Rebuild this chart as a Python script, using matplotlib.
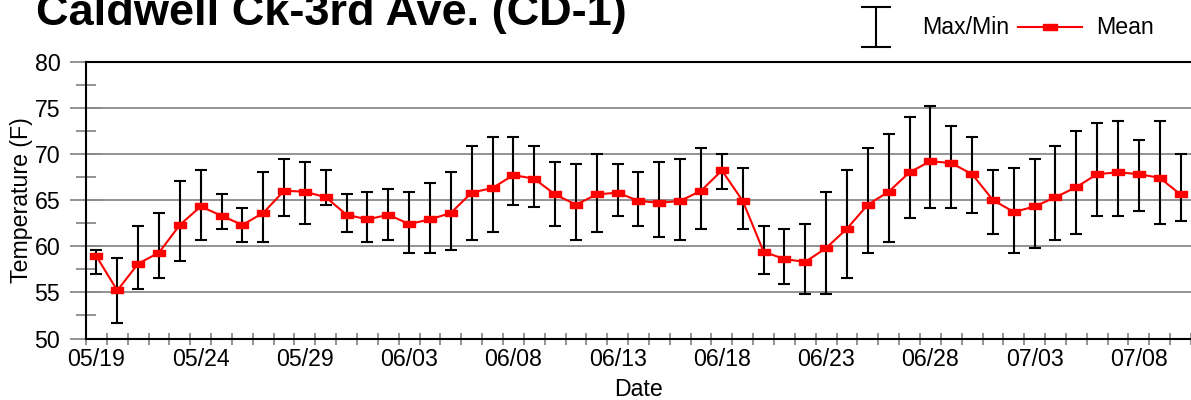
import numpy as np
import pandas as pd
from matplotlib import pyplot as plt
from matplotlib.lines import Line2D

plt.rcParams['font.family'] = ['Liberation Sans', 'DejaVu Sans']

# daily values, 05/19 .. 07/10
datas = pd.date_range('2010-05-19', periods=53, freq='D')
media = [58.9, 55.2, 58.1, 59.3, 62.3, 64.3, 63.3, 62.3, 63.6, 66.0,
         65.9, 65.3, 63.4, 62.9, 63.4, 62.4, 62.9, 63.6, 65.8, 66.3,
         67.7, 67.3, 65.6, 64.5, 65.6, 65.8, 64.9, 64.7, 64.9, 66.0,
         68.2, 64.9, 59.4, 58.6, 58.3, 59.8, 61.9, 64.5, 65.9, 68.0,
         69.2, 69.0, 67.8, 65.0, 63.7, 64.3, 65.3, 66.4, 67.8, 68.0,
         67.8, 67.4, 65.6]
maximo = [59.6, 58.7, 62.2, 63.6, 67.1, 68.3, 65.6, 64.1, 68.0, 69.4,
          69.1, 68.3, 65.6, 65.9, 66.2, 65.9, 66.8, 68.0, 70.9, 71.8,
          71.8, 70.9, 69.1, 68.9, 70.0, 68.9, 68.0, 69.1, 69.4, 70.6,
          70.0, 68.5, 62.2, 61.9, 62.4, 65.9, 68.3, 70.6, 72.1, 74.0,
          75.2, 73.0, 71.8, 68.3, 68.5, 69.4, 70.9, 72.5, 73.3, 73.6,
          71.5, 73.6, 70.0]
minimo = [57.0, 51.7, 55.4, 56.5, 58.4, 60.7, 61.9, 60.4, 60.4, 63.3,
          62.4, 64.5, 61.5, 60.4, 60.7, 59.3, 59.3, 59.6, 60.7, 61.5,
          64.5, 64.2, 62.2, 60.7, 61.5, 63.3, 62.2, 61.0, 60.7, 61.9,
          66.2, 61.9, 57.0, 55.9, 54.8, 54.8, 56.5, 59.3, 60.4, 63.0,
          64.1, 64.1, 63.6, 61.3, 59.3, 59.8, 60.7, 61.3, 63.3, 63.3,
          63.8, 62.4, 62.7]

x = np.arange(len(datas))
media = np.array(media)
erro = [media - np.array(minimo), np.array(maximo) - media]

fonte = 16.7

fig = plt.figure(figsize=(11.91, 4.0), dpi=100)
ax = fig.add_axes([86 / 1191, 61.5 / 400, 1 - 86 / 1191, 277 / 400])

ret = [(-1, -0.5), (1, -0.5), (1, 0.5), (-1, 0.5), (-1, -0.5)]  # marcador retangular

ax.errorbar(x, media, yerr=erro, fmt='none', ecolor='black', elinewidth=1.5,
            capsize=4, capthick=1.5, zorder=3)
ax.plot(x, media, color='red', lw=1.5, marker=ret, ms=9, zorder=4)

ax.set_xlim(-0.5, len(x) - 0.5)
ax.set_ylim(50, 80)
ax.set_yticks(np.arange(50, 81, 5))
ax.set_yticks(np.arange(52.5, 80, 5), minor=True)
ax.set_xticks(x[::5])
ax.set_xticklabels([d.strftime('%m/%d') for d in datas[::5]])
ax.set_xticks(np.arange(-0.5, len(x), 1), minor=True)

ax.grid(axis='y', which='major', color='#8a8a8a', lw=1.3, zorder=1)
ax.tick_params(axis='y', which='major', direction='inout', length=23, width=1.3,
               color='#8a8a8a', labelsize=fonte, pad=7)
ax.tick_params(axis='y', which='minor', direction='inout', length=15, width=1.3,
               color='#8a8a8a')
ax.tick_params(axis='x', which='major', length=0, labelsize=fonte, pad=7)
ax.tick_params(axis='x', which='minor', direction='inout', length=8, width=1.3,
               color='#8a8a8a')

for lado in ['left', 'bottom', 'top']:
    ax.spines[lado].set_linewidth(1.5)
ax.spines['right'].set_visible(False)

ax.set_xlabel('Date', fontsize=fonte, labelpad=5)
ax.set_ylabel('Temperature (F)', fontsize=fonte, labelpad=1)

fig.text(36 / 1191, 1 - 25 / 400, 'Caldwell Ck-3rd Ave. (CD-1)', fontsize=32.5,
         fontweight='bold', va='baseline')

# legenda desenhada a mao
lax = fig.add_axes([0, 0, 1, 1])
lax.set_xlim(0, 1191)
lax.set_ylim(400, 0)
lax.axis('off')
lax.errorbar([876], [27], yerr=[[20]], fmt='none', ecolor='black',
             elinewidth=1.5, capsize=11, capthick=1.5)
lax.text(922, 27, 'Max/Min', fontsize=fonte, va='center')
lax.add_line(Line2D([1018, 1082], [27, 27], color='red', lw=1.5))
lax.plot([1050], [27], color='red', marker=ret, ms=10, lw=0)
lax.text(1096, 27, 'Mean', fontsize=fonte, va='center')

fig.savefig('out.png', dpi=100)
